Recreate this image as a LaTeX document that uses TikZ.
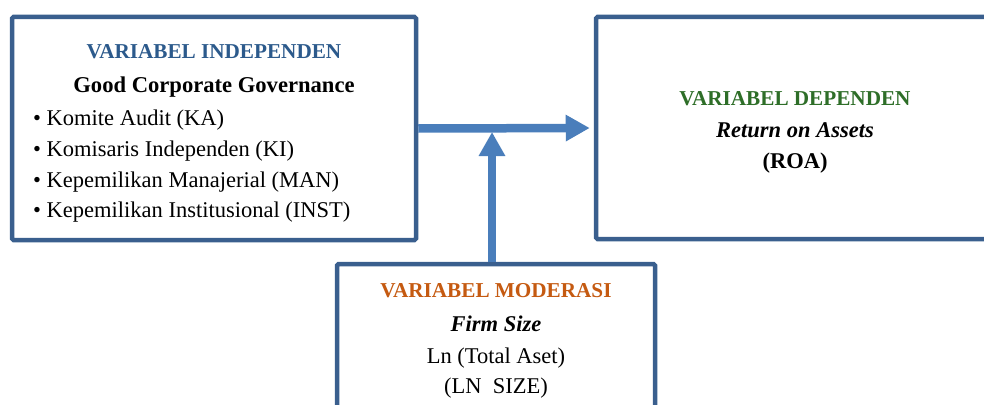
\documentclass[tikz,border=0pt]{standalone}
\usepackage{fontspec}
\setmainfont{Liberation Serif}
\usetikzlibrary{arrows.meta}
\definecolor{boxblue}{RGB}{58,95,142}
\definecolor{arrowblue}{RGB}{74,126,187}
\definecolor{titleblue}{RGB}{44,90,140}
\definecolor{titlegreen}{RGB}{46,110,40}
\definecolor{titleorange}{RGB}{197,90,17}
\tikzset{
  varbox/.style={draw=boxblue, line width=4.5pt, rounded corners=1.5pt, fill=white, inner sep=0pt},
  title/.style={anchor=base, font=\fontsize{21.2}{25}\selectfont\bfseries, inner sep=0pt},
  bodytxt/.style={anchor=base, font=\fontsize{22.5}{27}\selectfont, inner sep=0pt},
  bullettxt/.style={anchor=base west, font=\fontsize{22.5}{27}\selectfont, inner sep=0pt},
  flow/.style={draw=arrowblue, line width=8.5pt, -{Triangle[length=24pt,width=25pt]}},
}
\begin{document}
\begin{tikzpicture}[x=1pt,y=-1pt]
\useasboundingbox (0,0) rectangle (984,404);
\clip (0,0) rectangle (984,404);
% boxes
\node[varbox, minimum width=404pt, minimum height=223pt] (L) at (214,128.5) {};
\node[varbox, minimum width=398pt, minimum height=222pt] (R) at (795,128) {};
\node[varbox, minimum width=318pt, minimum height=170pt] (M) at (496,349) {};
% left box text
\node[title, text=titleblue] (lt) at (214,59) {VARIABEL INDEPENDEN};
\node[bodytxt, font=\fontsize{22.6}{27}\selectfont\bfseries] (lg) at (214,92) {Good Corporate Governance};
\node[bullettxt] (b1) at (33,125) {\textbullet\ Komite Audit (KA)};
\node[bullettxt] (b2) at (33,156) {\textbullet\ Komisaris Independen (KI)};
\node[bullettxt] (b3) at (33,187) {\textbullet\ Kepemilikan Manajerial (MAN)};
\node[bullettxt] (b4) at (33,217) {\textbullet\ Kepemilikan Institusional (INST)};
% right box text
\node[title, text=titlegreen] (rt) at (795,105) {VARIABEL DEPENDEN};
\node[bodytxt, font=\fontsize{22.5}{27}\selectfont\bfseries\itshape] (rr) at (795,137) {Return on Assets};
\node[bodytxt, font=\fontsize{22.5}{27}\selectfont\bfseries] (ro) at (795,168) {(ROA)};
% middle box text
\node[title, text=titleorange] (mt) at (496,297) {VARIABEL MODERASI};
\node[bodytxt, font=\fontsize{22.5}{27}\selectfont\bfseries\itshape] (mf) at (496,331) {Firm Size};
\node[bodytxt] (ml) at (496,363) {Ln (Total Aset)};
\node[bodytxt] (ms) at (496,393) {(LN\ \ SIZE)};
% arrows
\coordinate (tipV) at (492,132);
\draw[flow, shorten >=4pt] (L.east) -- (R.west);
\draw[flow] (tipV |- M.north) -- (tipV);
\end{tikzpicture}
\end{document}
